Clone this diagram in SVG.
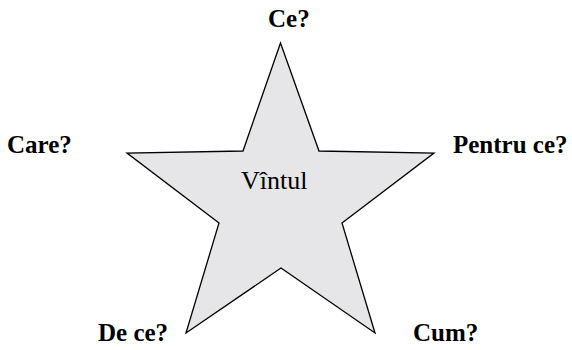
<svg xmlns="http://www.w3.org/2000/svg" width="572" height="350" viewBox="0 0 572 350">
<style>
.lbl{font-family:"Liberation Serif","Times New Roman",serif;font-weight:bold;font-size:25px;fill:#000}
.ctr{font-family:"Liberation Serif","Times New Roman",serif;font-size:26px;fill:#000}
.star{fill:#e6e6e8;stroke:#000;stroke-width:1.3;stroke-linejoin:miter}
</style>
<rect width="572" height="350" fill="#fff"/>
<g id="star">
<polygon class="star" points="280.5,43 319,151 434,153 342,223 375,333 281,268 186,333 219,223 127,153 243,151"/>
<text class="ctr" x="241" y="189">Vîntul</text>
</g>
<g id="ce"><text class="lbl" x="268" y="27">Ce?</text></g>
<g id="pentru"><text class="lbl" x="453" y="153">Pentru ce?</text></g>
<g id="cum"><text class="lbl" x="413" y="341">Cum?</text></g>
<g id="dece"><text class="lbl" x="98" y="341">De ce?</text></g>
<g id="care"><text class="lbl" x="7" y="153">Care?</text></g>
</svg>
